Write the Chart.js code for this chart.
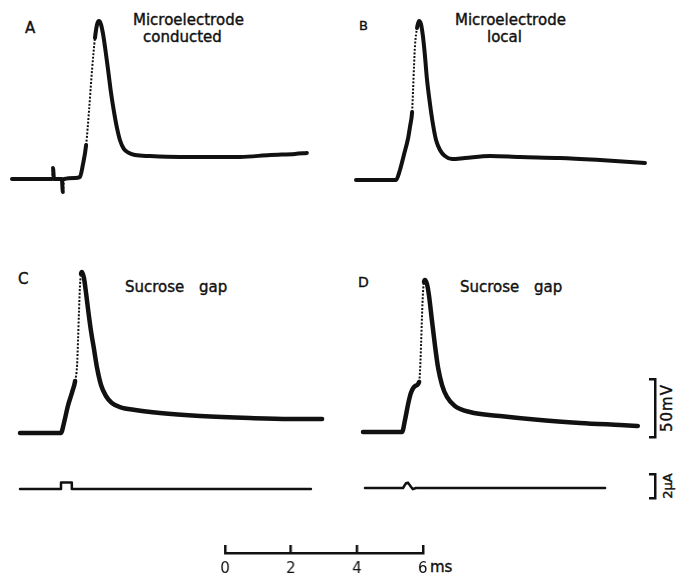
<!DOCTYPE html>
<html>
<head>
<meta charset="utf-8">
<title>Action potentials: microelectrode vs sucrose gap</title>
<script src="https://cdn.jsdelivr.net/npm/chart.js@4.4.1/dist/chart.umd.min.js"></script>
<style>
    html, body { margin: 0; padding: 0; background: #fff; }
    #fig { position: relative; width: 681px; height: 575px; overflow: hidden;
           font-family: "DejaVu Sans", sans-serif; color: #111; }
    .box { position: absolute; }
    .lbl { position: absolute; font-size: 15px; line-height: 15px; white-space: nowrap;
           -webkit-text-stroke: 0.4px #111; }
    .gap { word-spacing: 10px; }
    .rot { transform: translate(-50%, -50%) rotate(-90deg); }
</style>
</head>
<body>
<div id="fig">
    <div class="lbl" style="left:25px;top:21px">A</div>
    <div class="lbl" style="left:133px;top:13px">Microelectrode</div>
    <div class="lbl" style="left:143px;top:30px">conducted</div>

    <div class="lbl" style="left:359px;top:18px;font-size:13px">B</div>
    <div class="lbl" style="left:455px;top:13px">Microelectrode</div>
    <div class="lbl" style="left:487px;top:30px">local</div>

    <div class="lbl" style="left:18px;top:272px">C</div>
    <div class="lbl gap" style="left:125px;top:280px">Sucrose gap</div>

    <div class="lbl" style="left:358px;top:275px;font-size:14px">D</div>
    <div class="lbl gap" style="left:460px;top:280px">Sucrose gap</div>

    <div class="lbl rot" style="left:667px;top:408px;letter-spacing:1px">50mV</div>
    <div class="lbl rot" style="left:667px;top:486px;font-size:13px">2μA</div>
    <div class="lbl" style="left:430px;top:560px">ms</div>

    <div class="box" id="boxA"><canvas id="chartA"></canvas></div>
    <div class="box" id="boxB"><canvas id="chartB"></canvas></div>
    <div class="box" id="boxC"><canvas id="chartC"></canvas></div>
    <div class="box" id="boxD"><canvas id="chartD"></canvas></div>
    <div class="box" id="boxCi"><canvas id="chartCi"></canvas></div>
    <div class="box" id="boxDi"><canvas id="chartDi"></canvas></div>
    <div class="box" id="boxMv"><canvas id="chartMv"></canvas></div>
    <div class="box" id="boxUa"><canvas id="chartUa"></canvas></div>
    <div class="box" id="boxMs"><canvas id="chartMs"></canvas></div>
</div>

<script>
// Trace data: time in ms from start of sweep, potential in mV above resting level

// A - microelectrode, conducted
const timeA = [0, 0.85, 1.22, 1.25, 1.28, 1.52, 1.55, 1.59, 1.92, 2.07, 2.16, 2.26, 2.35, 2.44, 2.53, 2.59,
    2.65, 2.71, 2.77, 2.84, 2.93, 3.02, 3.11, 3.20, 3.29, 3.41, 3.57, 3.75, 4.21, 5.12, 6.04, 6.95, 7.87, 8.63, 8.99];
const voltA = [0, 0, 0, 9.5, 0, 0, -11.2, 0, 0.9, 1.7, 12.1, 29.3, 59.5, 94.0, 121.6, 132.8,
    136.2, 133.6, 125.9, 112.9, 94.0, 74.1, 57.8, 44.0, 33.6, 25.9, 22.4, 20.7, 19.8, 19.0, 19.0, 19.0, 20.7, 21.6, 22.4];

// B - microelectrode, local
const timeB = [0, 1.22, 1.34, 1.46, 1.59, 1.65, 1.71, 1.74, 1.77, 1.80, 1.86, 1.92, 1.98, 2.04, 2.10, 2.16,
    2.26, 2.35, 2.44, 2.56, 2.71, 2.93, 3.32, 4.09, 5.00, 6.22, 7.44, 8.81];
const voltB = [0, 0, 8.6, 21.6, 36.2, 46.6, 58.6, 77.6, 99.1, 116.4, 131.0, 137.1, 134.5, 124.1, 107.8, 87.9,
    64.7, 47.4, 34.5, 25.9, 20.7, 18.1, 19.0, 20.7, 19.8, 19.0, 17.2, 14.7];

// C - sucrose gap
const timeC = [0, 1.25, 1.34, 1.46, 1.59, 1.68, 1.74, 1.77, 1.80, 1.83, 1.86, 1.89, 1.95, 2.01, 2.07, 2.16,
    2.26, 2.35, 2.47, 2.62, 2.80, 3.05, 3.51, 4.27, 5.49, 7.01, 8.23, 9.21];
const voltC = [0, 0, 8.6, 23.3, 35.3, 44.8, 58.6, 80.2, 106.0, 127.6, 137.1, 138.8, 133.6, 121.6, 107.8, 88.8,
    71.6, 56.0, 41.4, 31.9, 25.9, 22.4, 19.8, 17.2, 14.7, 12.9, 12.1, 12.1];

// D - sucrose gap
const timeD = [0, 1.19, 1.28, 1.37, 1.46, 1.59, 1.71, 1.74, 1.77, 1.80, 1.83, 1.86, 1.89, 1.95, 2.01, 2.10,
    2.20, 2.29, 2.41, 2.56, 2.80, 3.26, 4.18, 5.40, 6.62, 7.84, 8.38];
const voltD = [0, 0, 10.3, 23.3, 33.6, 39.7, 43.1, 53.4, 75.0, 100.9, 120.7, 129.3, 131.0, 127.6, 118.1, 96.6,
    73.3, 55.2, 40.5, 30.2, 22.4, 17.2, 13.8, 10.3, 7.8, 6.0, 5.2];

// applied current (uA) under C and D
const timeCi = [0, 1.25, 1.25, 1.58, 1.58, 8.87];
const currC = [0, 0, 0.55, 0.55, 0, 0];
const timeDi = [0, 1.16, 1.25, 1.31, 1.40, 1.46, 1.55, 7.32];
const currD = [0, 0, 0.4, 0.45, 0.1, -0.1, 0, 0];

// calibration bars
const timeBarTicks = [0, 2, 4, 6];   // ms
const voltBar = 50;                  // mV
const currBar = 2;                   // uA

const INK = '#111';
const FONT = '"DejaVu Sans", sans-serif';
const PX_PER_MS = 32.8;
const PX_PER_MV = 1.16;
const PX_PER_UA = 12;

const baseOptions = {
    responsive: true,
    maintainAspectRatio: false,
    animation: false,
    events: [],
    plugins: { legend: { display: false }, tooltip: { enabled: false } }
};

// steep upstroke was written by a fast-moving beam, so it shows up faint and dotted
function fastRise(ctx) {
    const dx = Math.abs(ctx.p1.x - ctx.p0.x);
    const dy = ctx.p0.y - ctx.p1.y;
    return dy > 4 && dy > 8 * dx;
}

// Place one sweep so that its first sample lands at (left0, base0) on the page
function tracePanel(name, left0, base0, times, values, pxX, pxY, width, smooth) {
    const pad = 8;
    const vMax = Math.max(...values), vMin = Math.min(...values), tMax = Math.max(...times);
    const w = Math.ceil(tMax * pxX) + 2 * pad;
    const h = Math.ceil((vMax - vMin) * pxY) + 2 * pad;
    const top = Math.round(base0 - vMax * pxY) - pad;

    const box = document.getElementById('box' + name);
    box.style.left = (left0 - pad) + 'px';
    box.style.top = top + 'px';
    box.style.width = w + 'px';
    box.style.height = h + 'px';

    const yTop = (base0 - top - pad) / pxY;
    const yBottom = yTop - (h - 2 * pad) / pxY;

    return new Chart(document.getElementById('chart' + name), {
        type: 'line',
        data: {
            datasets: [{
                data: times.map((t, i) => ({ x: t, y: values[i] })),
                borderColor: INK,
                borderWidth: width,
                pointRadius: 0,
                fill: false,
                clip: false,
                tension: 0,
                cubicInterpolationMode: smooth ? 'monotone' : 'default',
                borderCapStyle: 'round',
                borderJoinStyle: 'round',
                segment: smooth ? {
                    borderWidth: ctx => fastRise(ctx) ? 2 : undefined,
                    borderDash: ctx => fastRise(ctx) ? [2, 1.6] : undefined,
                    borderCapStyle: ctx => fastRise(ctx) ? 'butt' : undefined
                } : undefined
            }]
        },
        options: {
            ...baseOptions,
            layout: { padding: pad },
            scales: {
                x: { type: 'linear', display: false, min: 0, max: (w - 2 * pad) / pxX },
                y: { type: 'linear', display: false, min: yBottom, max: yTop }
            }
        }
    });
}

// Vertical calibration bracket drawn with a right-hand axis
function bracket(name, right, top, bottom, max) {
    const tick = 6, pad = 4;
    const box = document.getElementById('box' + name);
    box.style.left = (right - tick) + 'px';
    box.style.top = (top - pad) + 'px';
    box.style.width = (tick + pad) + 'px';
    box.style.height = (bottom - top + 2 * pad) + 'px';

    return new Chart(document.getElementById('chart' + name), {
        type: 'line',
        data: { datasets: [] },
        options: {
            ...baseOptions,
            layout: { padding: { left: 0, right: pad, top: pad, bottom: pad } },
            scales: {
                x: { type: 'linear', display: false, min: 0, max: 1 },
                y: {
                    type: 'linear', position: 'right', min: 0, max: max,
                    afterFit: s => { s.width = 0; },
                    ticks: { display: false, stepSize: max },
                    grid: { drawOnChartArea: true, drawTicks: false, color: INK, lineWidth: 2.5 },
                    border: { display: true, color: INK, width: 2.5 }
                }
            }
        }
    });
}

// Horizontal time bar with labelled ticks
function timeBar(name, left, right, y) {
    const padL = 12, padR = 12, padT = 4, tickH = 8, axisH = 24;
    const box = document.getElementById('box' + name);
    box.style.left = (left - padL) + 'px';
    box.style.top = (y - tickH - padT) + 'px';
    box.style.width = (right - left + padL + padR) + 'px';
    box.style.height = (padT + tickH + axisH) + 'px';

    return new Chart(document.getElementById('chart' + name), {
        type: 'line',
        data: { datasets: [] },
        options: {
            ...baseOptions,
            layout: { padding: { left: padL, right: padR, top: padT, bottom: 0 } },
            scales: {
                x: {
                    type: 'linear', position: 'bottom',
                    min: timeBarTicks[0], max: timeBarTicks[timeBarTicks.length - 1],
                    afterFit: s => { s.height = axisH; },
                    afterBuildTicks: s => { s.ticks = timeBarTicks.map(v => ({ value: v })); },
                    ticks: { padding: 7, color: INK, maxRotation: 0, font: { family: FONT, size: 15 } },
                    grid: { drawOnChartArea: true, drawTicks: false, color: INK, lineWidth: 2.5 },
                    border: { display: true, color: INK, width: 2.5 }
                },
                y: { type: 'linear', display: false, min: 0, max: 1 }
            }
        }
    });
}

tracePanel('A', 12, 179, timeA, voltA, PX_PER_MS, PX_PER_MV, 4, true);
tracePanel('B', 356, 180, timeB, voltB, PX_PER_MS, PX_PER_MV, 4, true);
tracePanel('C', 20, 433, timeC, voltC, PX_PER_MS, PX_PER_MV, 4.5, true);
tracePanel('D', 363, 432, timeD, voltD, PX_PER_MS, PX_PER_MV, 4.5, true);
tracePanel('Ci', 20, 489, timeCi, currC, PX_PER_MS, PX_PER_UA, 2.5, false);
tracePanel('Di', 365, 488, timeDi, currD, PX_PER_MS, PX_PER_UA, 2.5, false);

bracket('Mv', 655, 379, 379 + voltBar * PX_PER_MV, voltBar);
bracket('Ua', 655, 474, 474 + currBar * PX_PER_UA, currBar);
timeBar('Ms', 225, 225 + 6 * PX_PER_MS, 553);
</script>
</body>
</html>
